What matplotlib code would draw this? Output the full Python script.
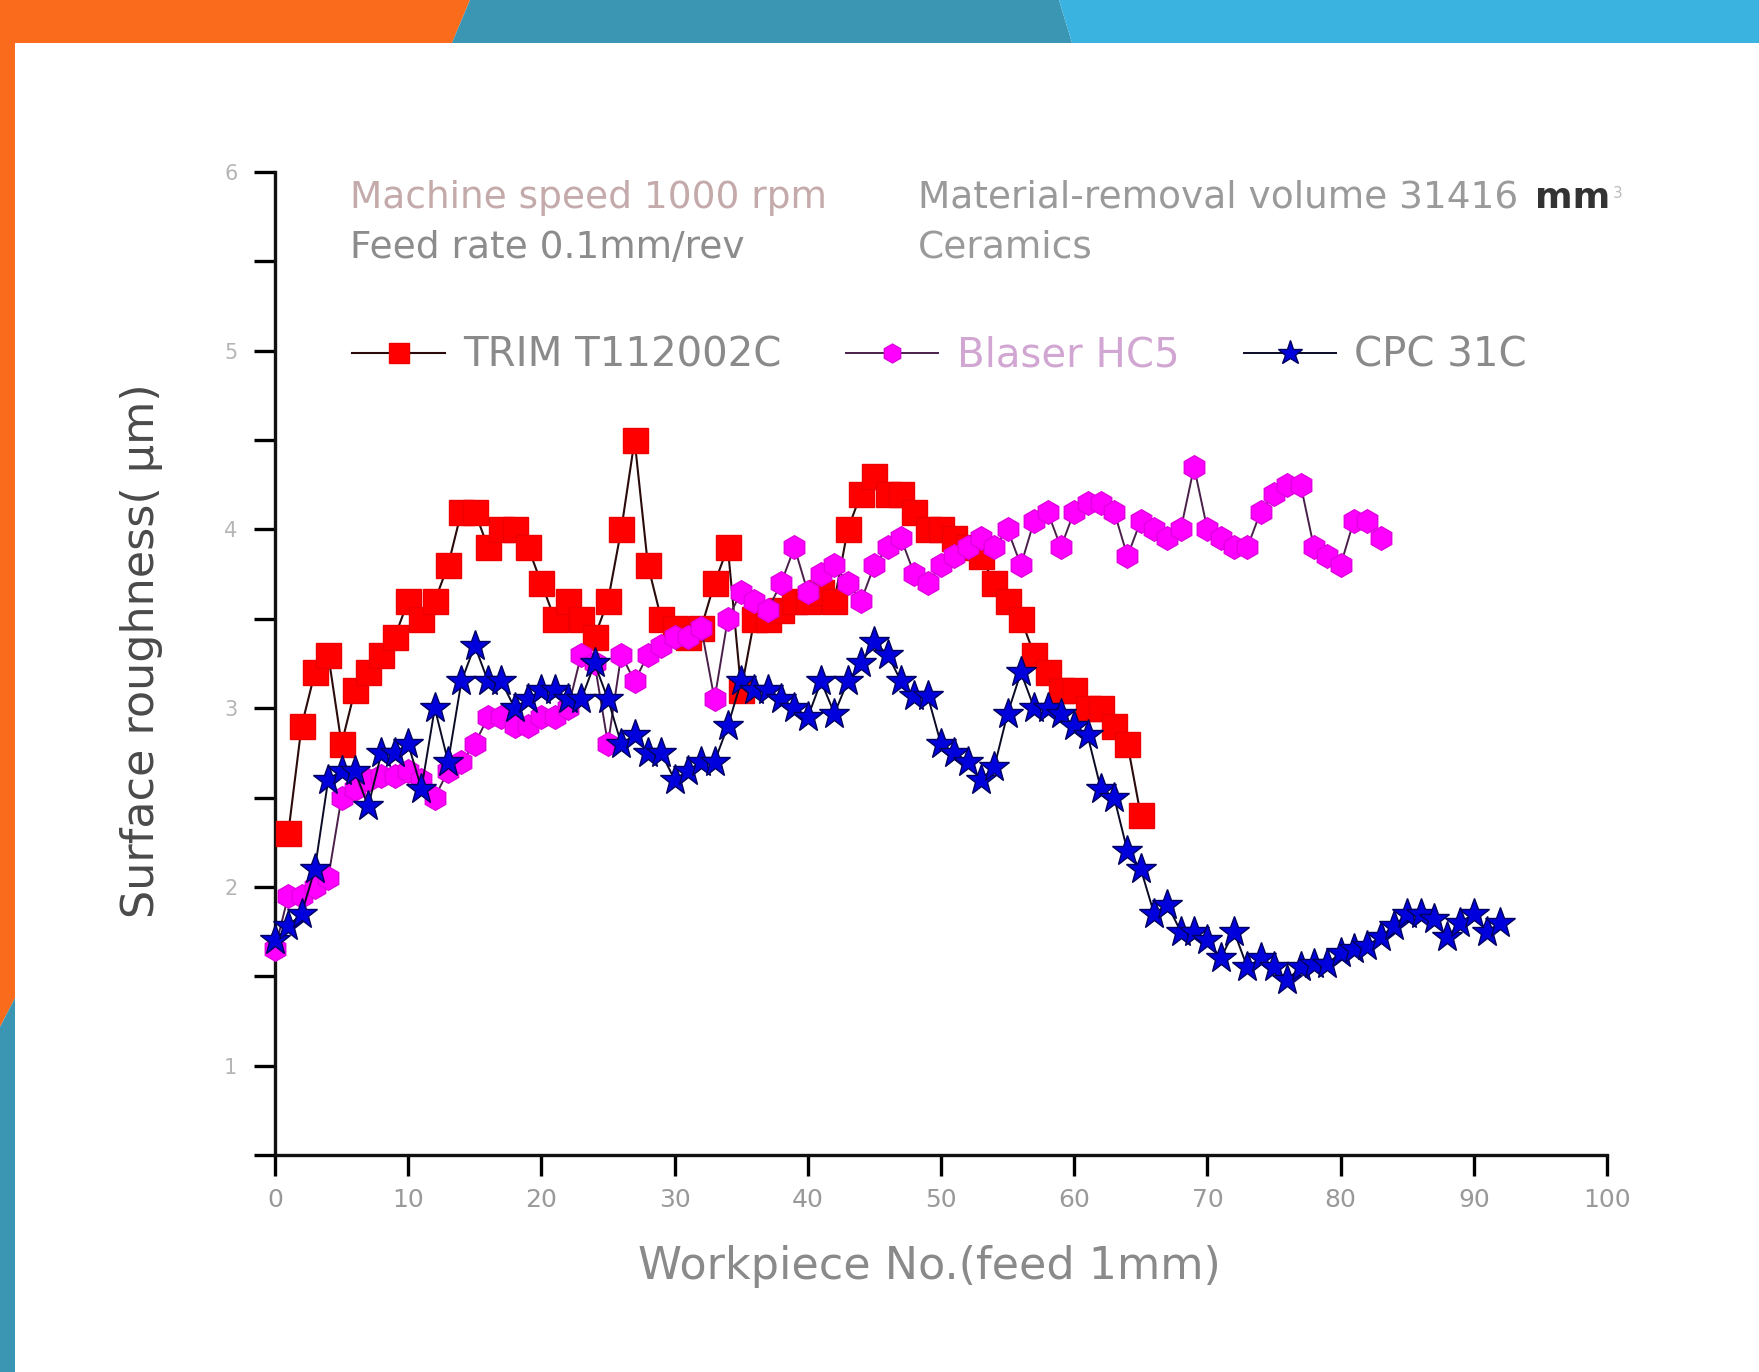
import numpy as np
import matplotlib.pyplot as plt
from matplotlib.patches import Polygon

# surface roughness (um) per workpiece, first workpiece number given separately
trim_start = 1
trim_ra = [2.3, 2.9, 3.2, 3.3, 2.8, 3.1, 3.2, 3.3, 3.4, 3.6,
           3.5, 3.6, 3.8, 4.1, 4.1, 3.9, 4.0, 4.0, 3.9, 3.7,
           3.5, 3.6, 3.5, 3.4, 3.6, 4.0, 4.5, 3.8, 3.5, 3.45,
           3.4, 3.45, 3.7, 3.9, 3.1, 3.5, 3.5, 3.55, 3.6, 3.6,
           3.65, 3.6, 4.0, 4.2, 4.3, 4.2, 4.2, 4.1, 4.0, 4.0,
           3.95, 3.9, 3.85, 3.7, 3.6, 3.5, 3.3, 3.2, 3.1, 3.1,
           3.0, 3.0, 2.9, 2.8, 2.4]

blaser_start = 0
blaser_ra = [1.65, 1.95, 1.95, 2.0, 2.05, 2.5, 2.55, 2.6, 2.62, 2.62,
             2.65, 2.6, 2.5, 2.65, 2.7, 2.8, 2.95, 2.95, 2.9, 2.9,
             2.95, 2.95, 3.0, 3.3, 3.25, 2.8, 3.3, 3.15, 3.3, 3.35,
             3.4, 3.4, 3.45, 3.05, 3.5, 3.65, 3.6, 3.55, 3.7, 3.9,
             3.65, 3.75, 3.8, 3.7, 3.6, 3.8, 3.9, 3.95, 3.75, 3.7,
             3.8, 3.85, 3.9, 3.95, 3.9, 4.0, 3.8, 4.05, 4.1, 3.9,
             4.1, 4.15, 4.15, 4.1, 3.85, 4.05, 4.0, 3.95, 4.0, 4.35,
             4.0, 3.95, 3.9, 3.9, 4.1, 4.2, 4.25, 4.25, 3.9, 3.85,
             3.8, 4.05, 4.05, 3.95]

cpc_start = 0
cpc_ra = [1.7, 1.78, 1.85, 2.1, 2.6, 2.65, 2.65, 2.45, 2.75, 2.75,
          2.8, 2.55, 3.0, 2.7, 3.15, 3.35, 3.15, 3.15, 3.0, 3.05,
          3.1, 3.1, 3.05, 3.05, 3.25, 3.05, 2.8, 2.85, 2.75, 2.75,
          2.6, 2.65, 2.7, 2.7, 2.9, 3.15, 3.1, 3.1, 3.05, 3.0,
          2.95, 3.15, 2.97, 3.15, 3.25, 3.37, 3.3, 3.15, 3.07, 3.07,
          2.8, 2.75, 2.7, 2.6, 2.67, 2.97, 3.2, 3.0, 3.0, 2.97,
          2.9, 2.85, 2.55, 2.5, 2.2, 2.1, 1.85, 1.9, 1.75, 1.75,
          1.7, 1.6, 1.75, 1.55, 1.6, 1.55, 1.48, 1.55, 1.57, 1.57,
          1.63, 1.65, 1.67, 1.72, 1.78, 1.85, 1.85, 1.82, 1.72, 1.8,
          1.85, 1.75, 1.8]

x_ticks = [0, 10, 20, 30, 40, 50, 60, 70, 80, 90, 100]
y_ticks = [1, 2, 3, 4, 5, 6]
y_minor = [0.5, 1.5, 2.5, 3.5, 4.5, 5.5]

W, H = 1759, 1372
fig = plt.figure(figsize=(W / 100, H / 100), dpi=100)
fig.patch.set_facecolor("white")


def slide_shape(pts, color):
    # pts in pixels from the top-left corner
    fig.add_artist(Polygon([(x / W, 1 - y / H) for x, y in pts], closed=True,
                           transform=fig.transFigure, facecolor=color,
                           edgecolor="none", zorder=0))


orange = "#fa6b1c"
teal = "#3a96b3"
sky = "#3bb3e0"
slide_shape([(0, 0), (470, 0), (452, 43), (0, 43)], orange)
slide_shape([(470, 0), (1059, 0), (1072, 43), (452, 43)], teal)
slide_shape([(1059, 0), (W, 0), (W, 43), (1072, 43)], sky)
slide_shape([(0, 43), (15, 43), (15, 998), (0, 1027)], orange)
slide_shape([(0, 1027), (15, 998), (15, H), (0, H)], teal)

ax = fig.add_axes([0.1563, 0.1582, 0.7573, 0.7164])
ax.set_facecolor("none")

trim_x = np.arange(trim_start, trim_start + len(trim_ra))
blaser_x = np.arange(blaser_start, blaser_start + len(blaser_ra))
cpc_x = np.arange(cpc_start, cpc_start + len(cpc_ra))

ax.plot(trim_x, trim_ra, "-", color="#2a0a0a", lw=1.5, marker="s", ms=18,
        mfc="#ff0000", mec="#ee0000", label="TRIM T112002C", clip_on=False, zorder=3)
ax.plot(blaser_x, blaser_ra, "-", color="#4a1f4a", lw=1.4, marker="h", ms=17,
        mfc="#ff00ff", mec="#e000e0", label="Blaser HC5", clip_on=False, zorder=4)
ax.plot(cpc_x, cpc_ra, "-", color="#0a0a25", lw=1.4, marker="*", ms=23,
        mfc="#0000dd", mec="#000060", mew=1.0, label="CPC 31C", clip_on=False, zorder=5)

ax.set_xlim(0, 100)
ax.set_ylim(0.5, 6)
ax.set_xticks(x_ticks)
ax.set_yticks(y_ticks)
ax.set_yticks(y_minor, minor=True)
ax.tick_params(axis="x", direction="out", length=15, width=2.4, labelsize=18,
               labelcolor="#999999", pad=9)
ax.tick_params(axis="y", which="both", direction="out", length=15, width=2.4,
               labelsize=15, labelcolor="#b5b5b5", pad=12)
for side in ["top", "right"]:
    ax.spines[side].set_visible(False)
for side in ["left", "bottom"]:
    ax.spines[side].set_linewidth(2.4)
    ax.spines[side].set_color("#111111")

ax.set_ylabel("Surface roughness( μm)", fontsize=32, color="#4a4a4a")
ax.yaxis.set_label_coords(-0.084, 0.513)
ax.set_xlabel("Workpiece No.(feed 1mm)", fontsize=32, color="#8a8a8a")
ax.xaxis.set_label_coords(0.491, -0.092)

ax.text(0.056, 0.974, "Machine speed 1000 rpm", transform=ax.transAxes,
        fontsize=27, color="#c4aaaa", va="center", ha="left")
ax.text(0.056, 0.923, "Feed rate 0.1mm/rev", transform=ax.transAxes,
        fontsize=27, color="#8c8c8c", va="center", ha="left")
vol = ax.text(0.483, 0.974, "Material-removal volume 31416", transform=ax.transAxes,
              fontsize=27, color="#9a9a9a", va="center", ha="left")
unit = ax.annotate("mm", xy=(1, 0.5), xycoords=vol, xytext=(12, 0),
                   textcoords="offset points", fontsize=26, fontweight="bold",
                   color="#333333", va="center", ha="left")
ax.annotate("3", xy=(1, 1), xycoords=unit, xytext=(2, -4),
            textcoords="offset points", fontsize=11, color="#bbbbbb",
            va="top", ha="left")
ax.text(0.483, 0.923, "Ceramics", transform=ax.transAxes,
        fontsize=27, color="#9a9a9a", va="center", ha="left")

leg = ax.legend(loc="center left", bbox_to_anchor=(0.058, 0.813), ncol=3,
                frameon=False, fontsize=29, handlelength=2.3, handletextpad=0.45,
                columnspacing=1.6, borderaxespad=0, borderpad=0, markerscale=0.8)
for txt, c in zip(leg.get_texts(), ["#8a8a8a", "#d2a6d2", "#8a8a8a"]):
    txt.set_color(c)

fig.savefig("out.png", dpi=100, facecolor=fig.get_facecolor())
